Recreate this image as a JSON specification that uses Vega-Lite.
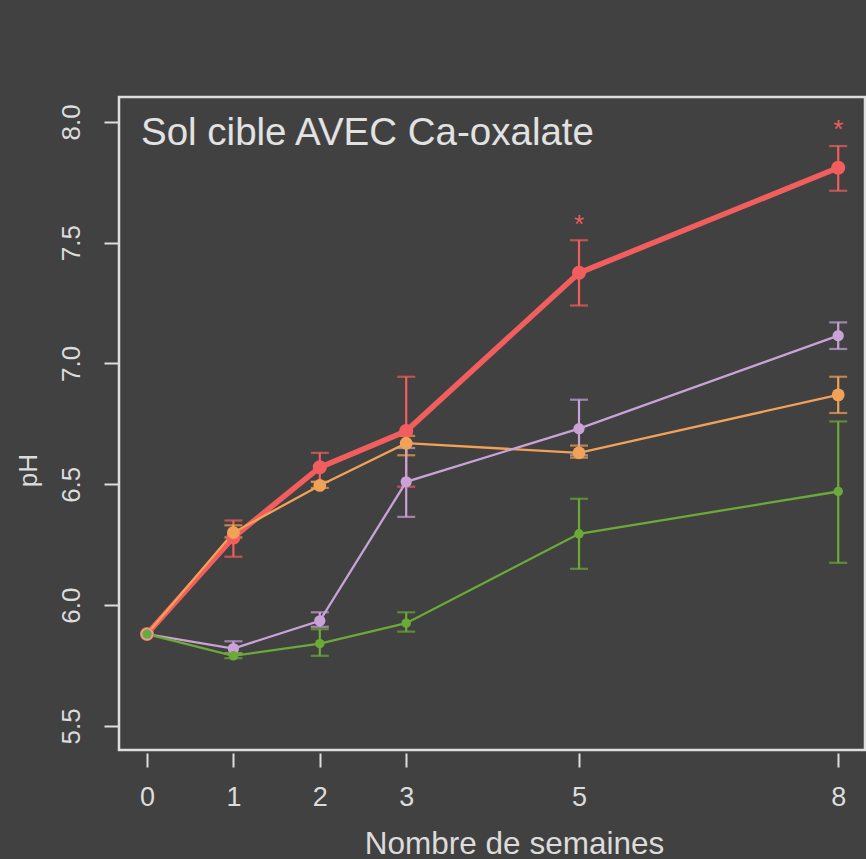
{
  "$schema": "https://vega.github.io/schema/vega-lite/v6.json",
  "width": 746,
  "height": 653,
  "autosize": "none",
  "padding": {"left": 119, "top": 97, "right": 1, "bottom": 109},
  "background": "#414141",
  "config": {
    "view": {"stroke": "#dedede", "strokeWidth": 2.5},
    "font": "Liberation Sans",
    "axis": {
      "grid": false,
      "domain": false,
      "tickColor": "#dedede",
      "tickWidth": 2,
      "tickSize": 14,
      "labelColor": "#dcdcdc",
      "titleColor": "#dcdcdc",
      "labelFont": "Liberation Sans",
      "titleFont": "Liberation Sans",
      "titleFontWeight": "normal"
    }
  },
  "title": {
    "text": "Sol cible AVEC Ca-oxalate",
    "orient": "top",
    "anchor": "start",
    "frame": "group",
    "offset": -86,
    "baseline": "alphabetic",
    "dx": 22,
    "fontSize": 38.5,
    "fontWeight": "normal",
    "color": "#e2e2e2",
    "font": "Liberation Sans"
  },
  "data": {
    "values": [
      {"series": "A", "week": 0, "ph": 5.88},
      {"series": "A", "week": 1, "ph": 6.28, "lo": 6.20, "hi": 6.35},
      {"series": "A", "week": 2, "ph": 6.57, "lo": 6.51, "hi": 6.63},
      {"series": "A", "week": 3, "ph": 6.72, "lo": 6.49, "hi": 6.945},
      {"series": "A", "week": 5, "ph": 7.375, "lo": 7.24, "hi": 7.51},
      {"series": "A", "week": 8, "ph": 7.81, "lo": 7.715, "hi": 7.90},
      {"series": "B", "week": 0, "ph": 5.88},
      {"series": "B", "week": 1, "ph": 6.30, "lo": 6.28, "hi": 6.33},
      {"series": "B", "week": 2, "ph": 6.495, "lo": 6.485, "hi": 6.51},
      {"series": "B", "week": 3, "ph": 6.67, "lo": 6.62, "hi": 6.70},
      {"series": "B", "week": 5, "ph": 6.63, "lo": 6.61, "hi": 6.66},
      {"series": "B", "week": 8, "ph": 6.87, "lo": 6.795, "hi": 6.945},
      {"series": "C", "week": 0, "ph": 5.88},
      {"series": "C", "week": 1, "ph": 5.82, "lo": 5.80, "hi": 5.85},
      {"series": "C", "week": 2, "ph": 5.935, "lo": 5.91, "hi": 5.97},
      {"series": "C", "week": 3, "ph": 6.51, "lo": 6.365, "hi": 6.65},
      {"series": "C", "week": 5, "ph": 6.73, "lo": 6.62, "hi": 6.85},
      {"series": "C", "week": 8, "ph": 7.115, "lo": 7.06, "hi": 7.17},
      {"series": "D", "week": 0, "ph": 5.88},
      {"series": "D", "week": 1, "ph": 5.79, "lo": 5.78, "hi": 5.80},
      {"series": "D", "week": 2, "ph": 5.84, "lo": 5.79, "hi": 5.90},
      {"series": "D", "week": 3, "ph": 5.925, "lo": 5.89, "hi": 5.97},
      {"series": "D", "week": 5, "ph": 6.295, "lo": 6.15, "hi": 6.44},
      {"series": "D", "week": 8, "ph": 6.47, "lo": 6.175, "hi": 6.76}
    ]
  },
  "encoding": {
    "x": {
      "field": "week",
      "type": "quantitative",
      "scale": {"domain": [-0.324, 8.31], "nice": false, "zero": false},
      "axis": {
        "values": [0, 1, 2, 3, 5, 8],
        "title": "Nombre de semaines",
        "labelFontSize": 27,
        "labelPadding": 17,
        "offset": 3,
        "titleFontSize": 31.5,
        "titlePadding": 18,
        "titleX": 395
      }
    },
    "y": {
      "field": "ph",
      "type": "quantitative",
      "scale": {"domain": [5.4, 8.103], "nice": false, "zero": false},
      "axis": {
        "values": [5.5, 6.0, 6.5, 7.0, 7.5, 8.0],
        "format": ".1f",
        "title": "pH",
        "labelAngle": -90,
        "labelAlign": "center",
        "labelBaseline": "bottom",
        "labelFontSize": 26,
        "labelPadding": 20,
        "offset": 1,
        "titleFontSize": 26,
        "titlePadding": 17,
        "titleY": 373
      }
    },
    "color": {
      "field": "series",
      "type": "nominal",
      "scale": {"domain": ["A", "B", "C", "D"], "range": ["#f25e5e", "#f2a257", "#c9a2d8", "#6caa38"]},
      "legend": null
    }
  },
  "layer": [
    {
      "transform": [{"filter": "datum.lo != null"}],
      "mark": {"type": "rule", "strokeWidth": 2.2},
      "encoding": {"y": {"field": "lo", "type": "quantitative"}, "y2": {"field": "hi"}}
    },
    {
      "transform": [{"filter": "datum.lo != null"}],
      "mark": {"type": "tick", "orient": "horizontal", "size": 18, "thickness": 2.2},
      "encoding": {"y": {"field": "lo", "type": "quantitative"}}
    },
    {
      "transform": [{"filter": "datum.lo != null"}],
      "mark": {"type": "tick", "orient": "horizontal", "size": 18, "thickness": 2.2},
      "encoding": {"y": {"field": "hi", "type": "quantitative"}}
    },
    {
      "transform": [{"filter": "datum.series == 'A'"}],
      "mark": {"type": "line", "strokeWidth": 5.5},
      "encoding": {"detail": {"field": "series"}}
    },
    {
      "transform": [{"filter": "datum.series != 'A'"}],
      "mark": {"type": "line", "strokeWidth": 2.3},
      "encoding": {"detail": {"field": "series"}}
    },
    {
      "mark": {"type": "point", "filled": true, "opacity": 1},
      "encoding": {
        "size": {"field": "series", "type": "nominal", "scale": {"domain": ["A", "B", "C", "D"], "range": [200, 90, 90, 90]}, "legend": null}
      }
    },
    {
      "data": {"values": [{"week": 5, "ph": 7.60, "s": "*"}, {"week": 8, "ph": 7.99, "s": "*"}]},
      "mark": {"type": "text", "fontSize": 26, "color": "#e8605e", "baseline": "middle", "dy": 6},
      "encoding": {"text": {"field": "s"}, "color": {"value": "#e8605e"}}
    }
  ]
}
